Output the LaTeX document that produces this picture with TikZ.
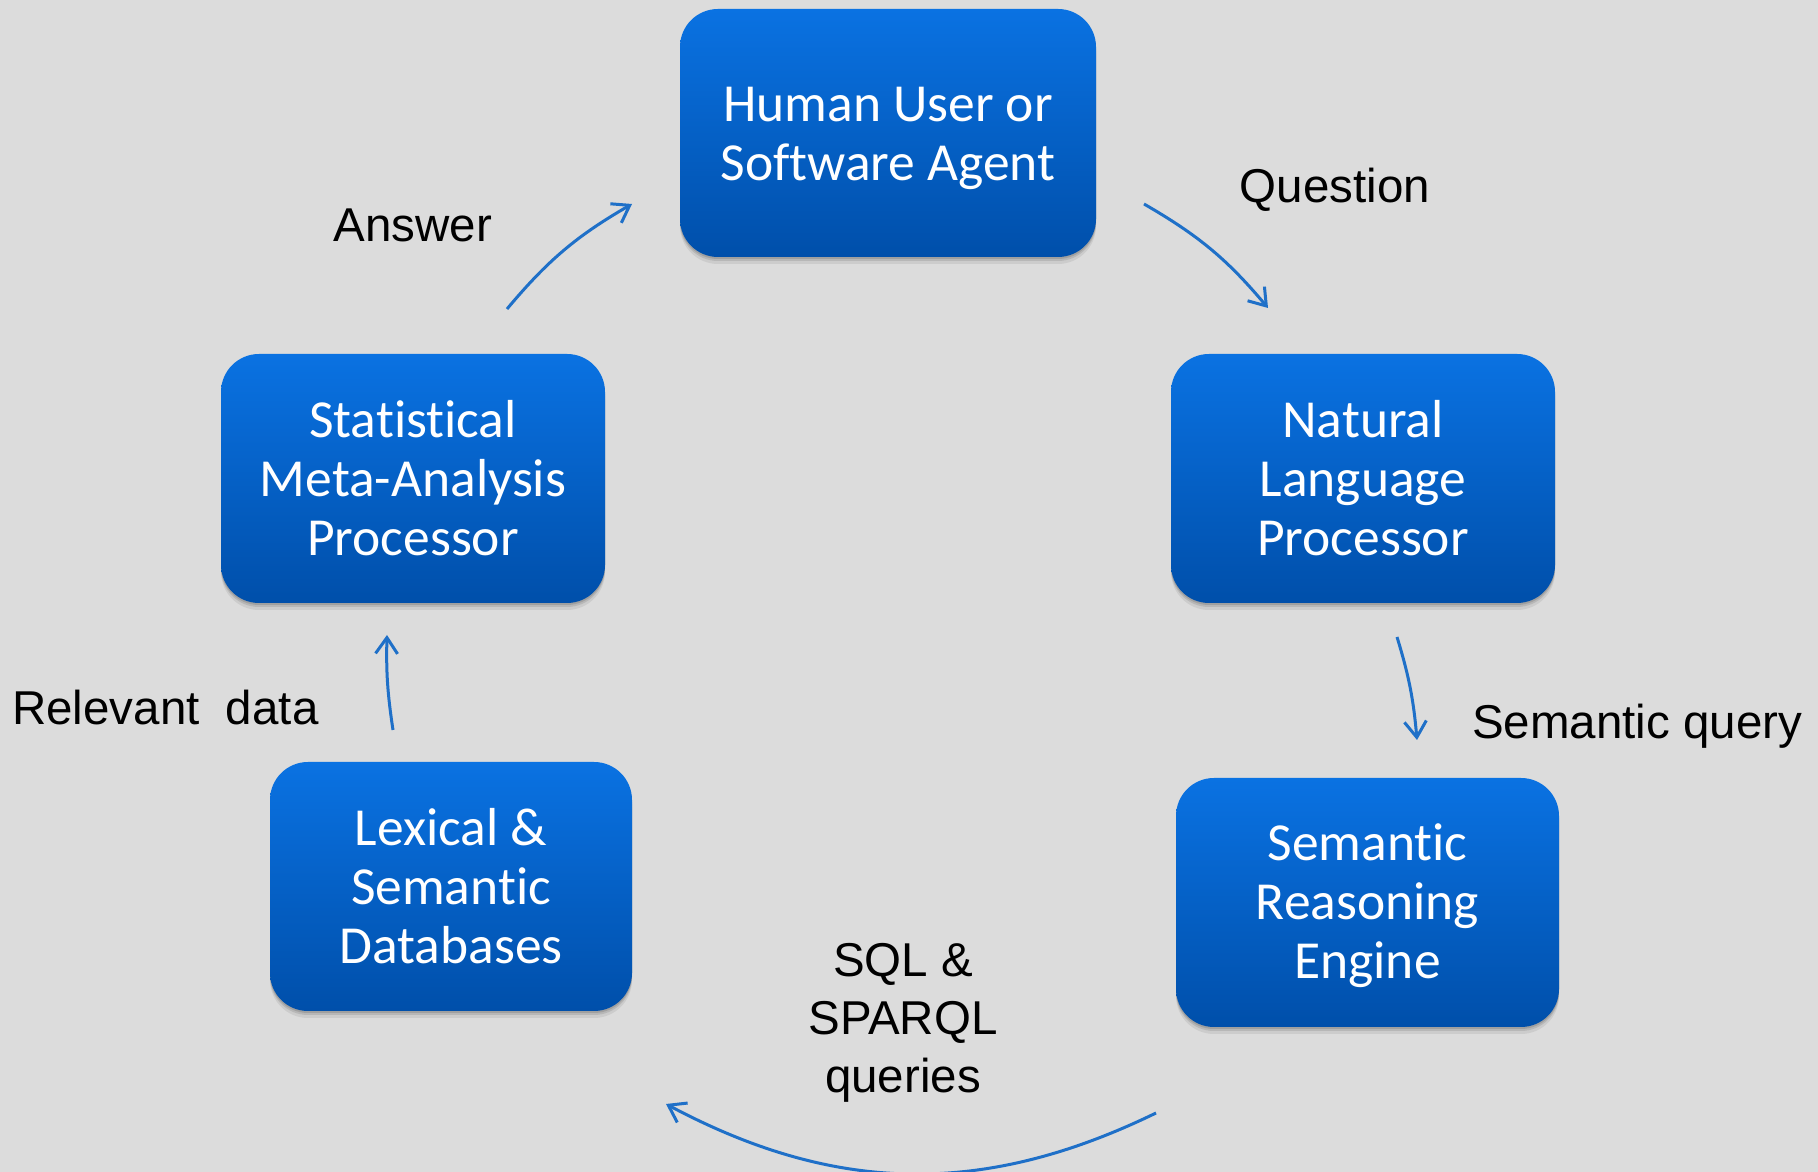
\documentclass[tikz,border=0pt]{standalone}
\usepackage{fontspec}
\setmainfont{Liberation Sans}
\newfontfamily\boxfont[Ligatures={NoCommon}]{Carlito}
\usetikzlibrary{arrows.meta,shadows}
\definecolor{bgcol}{HTML}{DCDCDC}
\definecolor{boxtop}{HTML}{0A72E2}
\definecolor{boxbot}{HTML}{004FAA}
\definecolor{arrcol}{HTML}{1F70C8}
\tikzset{
  procbox/.style={rounded corners=38pt, top color=boxtop, bottom color=boxbot, draw=none,
    text=white, align=center, font=\boxfont\fontsize{53.5}{59}\selectfont,
    inner sep=0pt,
    drop shadow={shadow xshift=0pt, shadow yshift=-2pt, opacity=0.12, fill=black},
    drop shadow={shadow xshift=0pt, shadow yshift=-4pt, opacity=0.10, fill=black},
    drop shadow={shadow xshift=0pt, shadow yshift=-7pt, opacity=0.07, fill=black}},
  lbl/.style={text=black, align=center, font=\fontsize{47.5}{58}\selectfont, inner sep=0pt},
  flow/.style={draw=arrcol, line width=3pt, -{Straight Barb[length=16pt,width=22pt,line width=3pt]}},
}
\begin{document}
\begin{tikzpicture}[x=1pt,y=1pt]
\fill[bgcol] (0,0) rectangle (1818,1172);
\useasboundingbox (0,0) rectangle (1818,1172);
% boxes
\node[procbox, minimum width=416pt, minimum height=248pt] (human) at (888,1039) {};
\node[text=white, align=center, font=\boxfont\fontsize{53.5}{59}\selectfont] (humant) at (888,1034) {Human User or\\Software Agent};
\node[procbox, minimum width=384pt, minimum height=249pt] (stat) at (413,693.5) {Statistical\\Meta-Analysis\\Processor};
\node[procbox, minimum width=384pt, minimum height=249pt] (nlp) at (1363,693.5) {Natural\\Language\\Processor};
\node[procbox, minimum width=362pt, minimum height=249pt] (lex) at (451,285.5) {Lexical \&\\Semantic\\Databases};
\node[procbox, minimum width=383pt, minimum height=249pt] (sre) at (1367.5,269.5) {};
\node[text=white, align=center, font=\boxfont\fontsize{53.5}{59}\selectfont] (sret) at (1367.5,266) {Semantic\\Reasoning\\Engine};
% labels
\node[lbl] (lq) at (1335,982) {Question};
\node[lbl] (la) at (413,947) {Answer};
\node[lbl, anchor=west] (ls) at (1472,446) {Semantic query};
\node[lbl, anchor=west] (lr) at (12,464) {Relevant\ \ data};
\node[lbl] (lsql) at (903,149) {SQL \&\\SPARQL\\queries};
% arrow endpoints
\coordinate (a1) at (507,863);  \coordinate (a2) at (632,968);
\coordinate (q1) at (1144,968); \coordinate (q2) at (1268,864);
\coordinate (s1) at (1397,535); \coordinate (s2) at (1417,432);
\coordinate (d1) at (1156,59);  \coordinate (d2) at (666,68);
\coordinate (r1) at (393,442);  \coordinate (r2) at (387,537);
\draw[flow] (a1) to[bend left=10] (a2);
\draw[flow] (q1) to[bend left=10] (q2);
\draw[flow] (s1) to[bend left=6] (s2);
\draw[flow] (d1) to[bend left=27] (d2);
\draw[flow] (r1) to[bend left=5] (r2);
\end{tikzpicture}
\end{document}
